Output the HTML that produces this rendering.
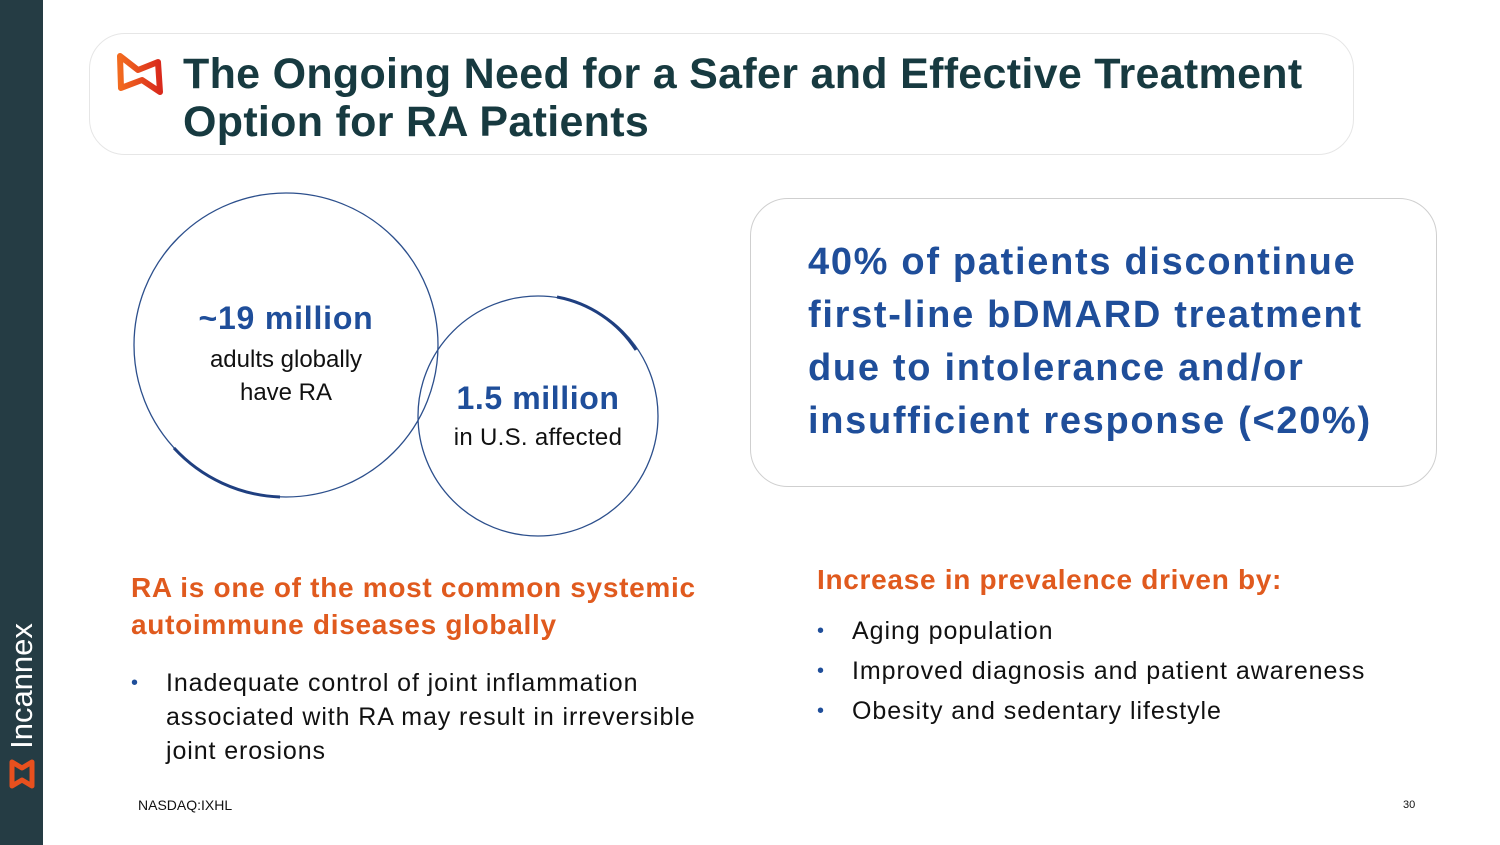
<!DOCTYPE html>
<html><head><meta charset="utf-8"><style>
body{margin:0;width:1500px;height:845px;background:#fff;position:relative;overflow:hidden;font-family:"Liberation Sans",sans-serif}
.a{position:absolute}
</style></head><body>
<div class="a" style="left:0;top:0;width:43px;height:845px;background:#253c44"></div>
<div class="a" style="left:22px;top:686px;transform:translate(-50%,-50%) rotate(-90deg);color:#fff;font-size:31px;white-space:nowrap">Incannex</div>
<svg class="a" style="left:8px;top:758px" width="28" height="32" viewBox="0 0 28 32"><path d="M4 4 L14 10 L24 4 L24 28 L14 22 L4 28 Z" fill="none" stroke="#e8501e" stroke-width="5" stroke-linejoin="round"/></svg>
<div class="a" style="left:89px;top:33px;width:1263px;height:120px;border:1px solid #e6e6e6;border-radius:36px"></div>
<svg class="a" style="left:114px;top:50px" width="54" height="48" viewBox="0 0 54 48">
<defs><linearGradient id="g" x1="0" x2="1"><stop offset="0" stop-color="#f26a1f"/><stop offset="1" stop-color="#d92a1c"/></linearGradient></defs>
<path d="M6 6 L24 20 L44 12 L46 42 L28 30 L7 38 Z" fill="none" stroke="url(#g)" stroke-width="6" stroke-linejoin="round"/></svg>
<div class="a" style="left:183px;top:50px;color:#173a40;font-size:43px;font-weight:bold;line-height:48px;letter-spacing:0.3px">The Ongoing Need for a Safer and Effective Treatment<br>Option for RA Patients</div>
<svg class="a" style="left:120px;top:180px" width="560" height="370">
<circle cx="166" cy="165" r="152" fill="none" stroke="#2c4f8c" stroke-width="1.3"/>
<circle cx="418" cy="236" r="120" fill="none" stroke="#2c4f8c" stroke-width="1.3"/>
<path d="M54 268 A152 152 0 0 0 160 317" fill="none" stroke="#1f3f80" stroke-width="3"/>
<path d="M437 117 A120 120 0 0 1 516 170" fill="none" stroke="#1f3f80" stroke-width="3"/>
</svg>
<div class="a" style="left:136px;top:300px;width:300px;text-align:center;color:#1f4e9a;font-size:32px;font-weight:bold;letter-spacing:0.8px">~19 million</div>
<div class="a" style="left:136px;top:343px;width:300px;text-align:center;color:#111;font-size:24px;line-height:33px">adults globally<br>have RA</div>
<div class="a" style="left:418px;top:380px;width:240px;text-align:center;color:#1f4e9a;font-size:32px;font-weight:bold;letter-spacing:0.6px">1.5 million</div>
<div class="a" style="left:418px;top:424px;width:240px;text-align:center;color:#111;font-size:24px;letter-spacing:0.3px">in U.S. affected</div>
<div class="a" style="left:750px;top:198px;width:685px;height:287px;border:1px solid #cfcfcf;border-radius:38px"></div>
<div class="a" style="left:808px;top:236px;color:#1f4e9a;font-size:38px;font-weight:bold;line-height:53px;letter-spacing:1.7px">40% of patients discontinue<br>first-line bDMARD treatment<br>due to intolerance and/or<br>insufficient response (&lt;20%)</div>
<div class="a" style="left:131px;top:569px;color:#e05a1e;font-size:28px;font-weight:bold;line-height:37px;letter-spacing:0.7px">RA is one of the most common systemic<br>autoimmune diseases globally</div>
<div class="a" style="left:131px;top:666px;color:#111;font-size:25px;line-height:34px;letter-spacing:0.9px"><span style="position:absolute;left:0;color:#1f4e9a;font-size:20px">•</span><div style="margin-left:35px">Inadequate control of joint inflammation<br>associated with RA may result in irreversible<br>joint erosions</div></div>
<div class="a" style="left:817px;top:564px;color:#e05a1e;font-size:28px;font-weight:bold;letter-spacing:0.7px">Increase in prevalence driven by:</div>
<div class="a" style="left:817px;top:611px;color:#111;font-size:25px;line-height:40px;letter-spacing:0.95px">
<div style="position:relative;padding-left:35px"><span style="position:absolute;left:0;color:#1f4e9a;font-size:20px">•</span>Aging population</div>
<div style="position:relative;padding-left:35px"><span style="position:absolute;left:0;color:#1f4e9a;font-size:20px">•</span>Improved diagnosis and patient awareness</div>
<div style="position:relative;padding-left:35px"><span style="position:absolute;left:0;color:#1f4e9a;font-size:20px">•</span>Obesity and sedentary lifestyle</div>
</div>
<div class="a" style="left:138px;top:797px;font-size:14px;color:#111">NASDAQ:IXHL</div>
<div class="a" style="left:1403px;top:799px;font-size:11px;color:#111">30</div>
</body></html>
